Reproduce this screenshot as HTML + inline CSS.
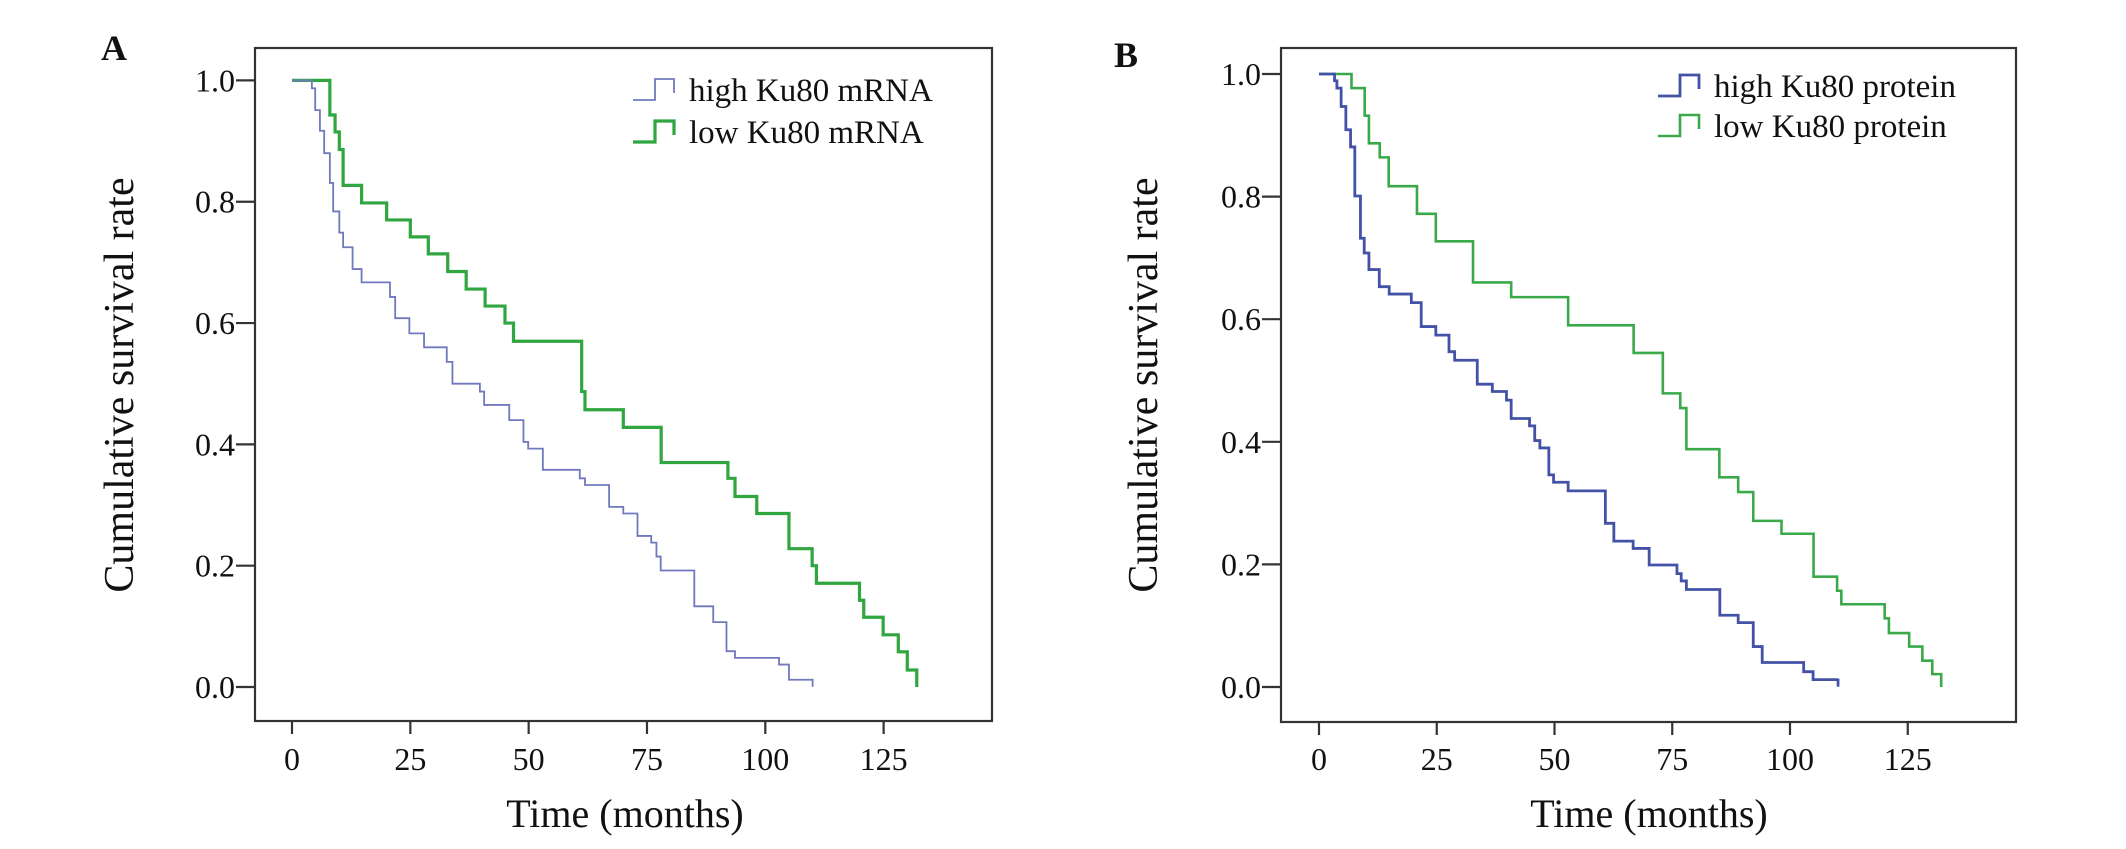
<!DOCTYPE html>
<html><head><meta charset="utf-8">
<style>
html,body{margin:0;padding:0;background:#fff;}
svg{display:block;}
text{font-family:"Liberation Serif",serif;fill:#111;}
</style></head>
<body>
<svg id="fig" width="2126" height="849" viewBox="0 0 2126 849" xmlns="http://www.w3.org/2000/svg">
<rect width="2126" height="849" fill="#fff"/>
</svg>
<script>
// ---- Data: panel A (mRNA) ----
const aHighT = [4.2,4.9,5.9,6.8,8.0,8.7,10.0,10.8,12.8,14.7,20.7,21.8,24.8,27.9,32.7,33.9,39.7,40.6,45.9,48.9,49.9,53.0,60.8,61.9,67.0,70.0,73.0,75.9,77.0,77.9,85.0,89.0,91.8,93.6,102.9,105.0];
const aHighS = [0.987,0.951,0.917,0.880,0.831,0.784,0.749,0.725,0.689,0.667,0.643,0.608,0.583,0.560,0.536,0.500,0.487,0.465,0.440,0.404,0.393,0.358,0.344,0.333,0.297,0.286,0.249,0.238,0.215,0.192,0.133,0.107,0.059,0.048,0.037,0.012];
const aHighEnd = 110;
const aLowT = [8.0,9.1,10.0,10.8,14.7,20.0,25.0,28.8,32.9,36.8,40.8,45.0,46.8,61.2,61.9,70.0,78.0,92.1,93.6,98.2,105.0,109.9,110.8,119.9,120.8,124.9,128.1,130.0,132.0];
const aLowS = [0.943,0.915,0.886,0.827,0.798,0.770,0.742,0.714,0.685,0.656,0.628,0.600,0.570,0.487,0.457,0.428,0.370,0.344,0.314,0.286,0.228,0.200,0.171,0.143,0.115,0.086,0.058,0.028,0.0];
const aLowEnd = 132;
// ---- Data: panel B (protein) ----
const bHighT = [3.3,3.8,4.7,5.7,6.7,7.6,8.8,9.6,10.6,12.8,14.9,19.6,21.7,24.8,27.6,28.8,33.6,36.8,39.8,40.8,44.7,45.8,46.9,48.8,49.8,52.9,60.8,62.6,66.7,70.1,76.0,76.9,78.0,85.1,89.0,92.2,94.1,102.9,104.9];
const bHighS = [0.989,0.977,0.947,0.909,0.881,0.801,0.732,0.708,0.681,0.653,0.641,0.627,0.588,0.574,0.547,0.533,0.494,0.482,0.468,0.438,0.426,0.402,0.390,0.346,0.334,0.320,0.267,0.238,0.226,0.199,0.185,0.173,0.159,0.117,0.105,0.066,0.040,0.025,0.012];
const bHighEnd = 110.2;
const bLowT = [6.9,9.7,10.6,12.9,14.8,20.8,24.8,32.7,40.8,52.9,66.8,73.0,76.7,78.0,85.0,89.0,92.2,98.2,105.0,110.0,110.9,120.1,121.0,125.3,128.1,130.2,132.1];
const bLowS = [0.977,0.932,0.887,0.864,0.817,0.772,0.727,0.660,0.636,0.590,0.545,0.479,0.455,0.388,0.342,0.318,0.271,0.250,0.180,0.157,0.135,0.112,0.088,0.066,0.043,0.021,0.0];
const bLowEnd = 132.1;
const xTicks = [0,25,50,75,100,125];
const yTicks = [0,0.2,0.4,0.6,0.8,1.0];
const yTickLabels = ["0.0","0.2","0.4","0.6","0.8","1.0"];

const NS = "http://www.w3.org/2000/svg";
const svg = document.getElementById('fig');
function mk(tag, attrs, parent){
  const e = document.createElementNS(NS, tag);
  for (const k in attrs) e.setAttribute(k, attrs[k]);
  (parent||svg).appendChild(e);
  return e;
}

function panel(cfg){
  const g = mk('g', {});
  
  
  const xs = t => cfg.x0 + t * cfg.pxPerMonth;
  const ys = s => cfg.y0 - s * cfg.pxPerUnit;
  // frame
  const fr = mk('rect', {x:cfg.L, y:cfg.T, width:cfg.R-cfg.L, height:cfg.B-cfg.T, fill:'none', stroke:'#333', 'stroke-width':2.2}, g);
  
  
  // y ticks
  yTicks.forEach((v,i)=>{
    const y = ys(v);
    const tk = mk('line', {x1:cfg.L-19, x2:cfg.L, y1:y, y2:y, stroke:'#333', 'stroke-width':2.2}, g);
    
    
    const lb = mk('text', {x:cfg.L-20, y:y+11, 'font-size':32, 'text-anchor':'end'}, g);
    
    
    lb.textContent = yTickLabels[i];
  });
  // x ticks
  xTicks.forEach(v=>{
    const x = xs(v);
    const tk = mk('line', {x1:x, x2:x, y1:cfg.B, y2:cfg.B+13, stroke:'#333', 'stroke-width':2.2}, g);
    
    
    const lb = mk('text', {x:x, y:770, 'font-size':32, 'text-anchor':'middle'}, g);
    
    
    lb.textContent = String(v);
  });
  // axis titles
  const xt = mk('text', {x:cfg.xTitleX, y:827, 'font-size':40, 'text-anchor':'middle'}, g);
  
  
  xt.textContent = 'Time (months)';
  const yt = mk('text', {x:0, y:0, 'font-size':42, 'text-anchor':'middle', transform:`translate(${cfg.yTitleX},385) rotate(-90)`}, g);
  
  
  yt.textContent = 'Cumulative survival rate';
  // panel letter
  const pl = mk('text', {x:cfg.letterX, y:cfg.letterY, 'font-size':36, 'font-weight':'bold'}, g);
  
  
  pl.textContent = cfg.letter;
  // curves
  function curve(T, S, end, color, w, nm, censor){
    let d = `M${xs(0)},${ys(1)}`;
    let last = 1;
    for (let i=0;i<T.length;i++){ d += ` H${xs(T[i])} V${ys(S[i])}`; last = S[i]; }
    d += ` H${xs(end)}`;
    const p = mk('path', {d:d, fill:'none', stroke:color, 'stroke-width':w, 'stroke-linejoin':'miter'}, g);
    
    
    if (censor){
      const c = mk('line', {x1:xs(end), x2:xs(end), y1:ys(last)-1, y2:ys(last)+7, stroke:color, 'stroke-width':w}, g);
      
      
    }
  }
  curve(cfg.lowT, cfg.lowS, cfg.lowEnd, cfg.lowColor, cfg.lowW, 'low-ku80-curve', false);
  curve(cfg.highT, cfg.highS, cfg.highEnd, cfg.highColor, cfg.highW, 'high-ku80-curve', true);
  // legend
  const entries = [[cfg.legY[0], cfg.highColor, cfg.highW, cfg.highLabel, 'legend-entry-high'],
                   [cfg.legY[1], cfg.lowColor, cfg.lowW, cfg.lowLabel, 'legend-entry-low']];
  entries.forEach(e=>{
    const lg = mk('g', {}, g);
    
    
    const x0 = cfg.legX;
    const sym = mk('path', {d:`M${x0},${e[0]+10} H${x0+22} V${e[0]-11} H${x0+41} V${e[0]+3}`, fill:'none', stroke:e[1], 'stroke-width':e[2]}, lg);
    
    
    const tx = mk('text', {x:x0+56, y:e[0]+11, 'font-size':33}, lg);
    
    
    tx.textContent = e[3];
  });
}

panel({name:'panel-a-mrna', letter:'A', letterX:101, letterY:60,
  L:255, T:48, R:992, B:721, x0:292, pxPerMonth:4.733, y0:687, pxPerUnit:606.6,
  xTitleX:625, yTitleX:133,
  highT:aHighT, highS:aHighS, highEnd:aHighEnd, highColor:'#7079bd', highW:1.8,
  lowT:aLowT, lowS:aLowS, lowEnd:aLowEnd, lowColor:'#2fa63f', lowW:3.2,
  legX:633, legY:[90,132], highLabel:'high Ku80 mRNA', lowLabel:'low Ku80 mRNA'});

panel({name:'panel-b-protein', letter:'B', letterX:1114, letterY:67,
  L:1281, T:48, R:2016, B:722, x0:1319, pxPerMonth:4.71, y0:687, pxPerUnit:613,
  xTitleX:1649, yTitleX:1157,
  highT:bHighT, highS:bHighS, highEnd:bHighEnd, highColor:'#4352a6', highW:2.8,
  lowT:bLowT, lowS:bLowS, lowEnd:bLowEnd, lowColor:'#3aa94a', lowW:2.6,
  legX:1658, legY:[86,126], highLabel:'high Ku80 protein', lowLabel:'low Ku80 protein'});
</script>
</body></html>
